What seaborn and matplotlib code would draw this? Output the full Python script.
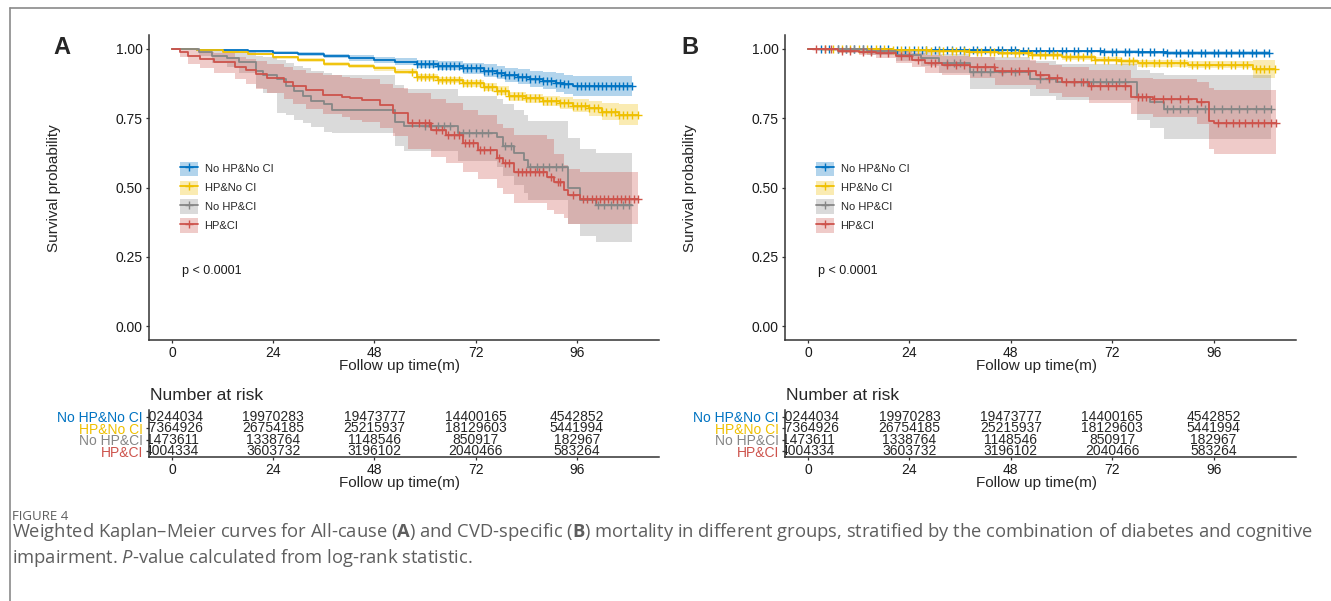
import numpy as np
import seaborn as sns
import matplotlib.pyplot as plt
from matplotlib.patches import Patch
from matplotlib.lines import Line2D

sns.set_style('ticks')
plt.rcParams['font.family'] = ['Liberation Sans', 'DejaVu Sans']
plt.rcParams['mathtext.fontset'] = 'custom'
plt.rcParams['mathtext.rm'] = 'Open Sans'
plt.rcParams['mathtext.bf'] = 'Open Sans:bold'
plt.rcParams['mathtext.it'] = 'Open Sans:italic'

groups = ['No HP&No CI', 'HP&No CI', 'No HP&CI', 'HP&CI']
colors = ['#0073C2', '#EFC000', '#868686', '#CD534C']

# ---- panel A: all-cause mortality (time, survival, lower CI, upper CI, censor times)
a_blue_t = [0, 6, 12, 18, 24, 30, 36, 42, 48, 53, 58, 63, 69, 74, 77, 79, 82, 85, 88, 91, 93, 95, 109]
a_blue_s = [1.0, 0.998, 0.995, 0.991, 0.987, 0.982, 0.975, 0.968, 0.961, 0.954, 0.946, 0.940, 0.930,
            0.922, 0.915, 0.906, 0.900, 0.893, 0.886, 0.879, 0.872, 0.866, 0.866]
a_blue_lo = [1.0, 0.996, 0.992, 0.987, 0.982, 0.976, 0.967, 0.958, 0.950, 0.941, 0.931, 0.923, 0.910,
             0.899, 0.891, 0.881, 0.873, 0.864, 0.855, 0.846, 0.837, 0.830, 0.830]
a_blue_hi = [1.0, 1.0, 0.998, 0.995, 0.992, 0.988, 0.983, 0.978, 0.972, 0.967, 0.961, 0.957, 0.950,
             0.945, 0.939, 0.931, 0.927, 0.922, 0.917, 0.912, 0.907, 0.902, 0.902]
a_blue_cens = [58, 59, 60, 61, 62, 63, 64, 65, 66, 67, 68, 69, 70, 71, 72, 73, 74, 75, 76, 77, 78, 79, 80,
               81, 82, 83, 84, 85, 86, 87, 88, 89, 90, 91, 92, 93, 94, 96, 97, 98, 99, 100, 101, 102, 103,
               104, 105, 106, 107, 108, 109]

a_yel_t = [0, 6, 12, 18, 24, 30, 36, 42, 48, 53, 58, 63, 69, 74, 77, 80, 84, 88, 92, 95, 99, 102, 106, 110.5]
a_yel_s = [1.0, 0.996, 0.990, 0.981, 0.970, 0.960, 0.947, 0.938, 0.930, 0.918, 0.900, 0.888, 0.876, 0.862,
           0.850, 0.830, 0.822, 0.812, 0.804, 0.795, 0.786, 0.774, 0.762, 0.762]
a_yel_lo = [1.0, 0.994, 0.987, 0.977, 0.965, 0.954, 0.940, 0.930, 0.921, 0.908, 0.889, 0.876, 0.863, 0.848,
            0.835, 0.814, 0.805, 0.793, 0.783, 0.771, 0.758, 0.742, 0.724, 0.724]
a_yel_hi = [1.0, 0.998, 0.993, 0.985, 0.975, 0.966, 0.954, 0.946, 0.939, 0.928, 0.911, 0.900, 0.889, 0.876,
            0.865, 0.846, 0.839, 0.831, 0.825, 0.819, 0.814, 0.806, 0.800, 0.800]
a_yel_cens = [57, 58, 59, 60, 61, 62, 63, 64, 65, 66, 67, 68, 69, 70, 71, 72, 73, 74, 75, 76, 77, 78, 79, 80,
              81, 82, 83, 84, 85, 86, 87, 88, 89, 90, 91, 92, 93, 94, 95, 96, 97, 98, 99, 100, 101, 102, 103,
              104, 105, 106, 107, 108, 109, 110.5]

a_gray_t = [0, 6.5, 9.5, 13, 16, 20, 21.5, 25, 27, 29, 31, 33, 36, 38, 52.8, 55, 67.8, 77, 78.5, 81, 83.6,
            84.4, 93.9, 96.7, 100.6, 109.2]
a_gray_s = [1.0, 0.99, 0.975, 0.966, 0.954, 0.92, 0.905, 0.89, 0.868, 0.85, 0.83, 0.814, 0.80, 0.78, 0.738,
            0.722, 0.696, 0.683, 0.65, 0.624, 0.599, 0.575, 0.497, 0.455, 0.437, 0.437]
a_gray_lo = [1.0, 0.975, 0.95, 0.935, 0.915, 0.86, 0.84, 0.77, 0.76, 0.745, 0.733, 0.72, 0.70, 0.695, 0.65,
             0.63, 0.595, 0.575, 0.54, 0.51, 0.48, 0.455, 0.37, 0.325, 0.305, 0.305]
a_gray_hi = [1.0, 1.0, 1.0, 0.995, 0.99, 0.975, 0.97, 0.96, 0.95, 0.94, 0.93, 0.92, 0.915, 0.905, 0.87,
             0.855, 0.83, 0.82, 0.80, 0.78, 0.76, 0.74, 0.68, 0.64, 0.625, 0.625]
a_gray_cens = [60, 61.5, 63, 64.5, 66, 69, 70.5, 72, 73.5, 75, 79, 80.5, 85, 86.5, 88, 89.5, 91, 92.5, 101,
               102.5, 104, 105.5, 107, 108.5]

a_red_t = [0, 1.8, 3.9, 6.6, 10, 15, 17.5, 20, 22.5, 26.6, 28.7, 31.9, 35.8, 40.4, 42.2, 45, 49.3, 52.5, 56,
           61.4, 65, 69, 72.6, 77, 78.6, 81, 89, 90.5, 93, 94, 96.7, 110.5]
a_red_s = [1.0, 0.99, 0.973, 0.965, 0.954, 0.936, 0.925, 0.909, 0.895, 0.882, 0.866, 0.852, 0.834, 0.828,
           0.822, 0.815, 0.798, 0.77, 0.733, 0.708, 0.69, 0.66, 0.635, 0.605, 0.587, 0.557, 0.539, 0.521,
           0.491, 0.473, 0.457, 0.457]
a_red_lo = [1.0, 0.97, 0.945, 0.93, 0.915, 0.89, 0.875, 0.855, 0.84, 0.82, 0.80, 0.785, 0.765, 0.755, 0.745,
            0.735, 0.715, 0.685, 0.64, 0.61, 0.59, 0.555, 0.53, 0.50, 0.475, 0.445, 0.42, 0.405, 0.39, 0.37,
            0.37, 0.37]
a_red_hi = [1.0, 1.0, 0.995, 0.99, 0.985, 0.972, 0.965, 0.955, 0.945, 0.935, 0.925, 0.915, 0.905, 0.9, 0.895,
            0.89, 0.875, 0.86, 0.84, 0.82, 0.805, 0.78, 0.76, 0.73, 0.715, 0.69, 0.675, 0.62, 0.58, 0.565,
            0.557, 0.557]
a_red_cens = [57, 58.5, 60, 61, 62.5, 64, 65.5, 67, 68, 69.5, 70.5, 71.5, 73, 74, 75.5, 77.5, 79, 80, 82, 83,
              84, 85, 86, 87, 88, 90, 91.5, 92, 95, 97.5, 98.5, 99.5, 100.5, 101.5, 102.5, 103.5, 104.5,
              105.5, 106.5, 107.5, 108.5, 109.5, 110.5]

# ---- panel B: CVD-specific mortality
b_blue_t = [0, 10, 20, 30, 40, 50, 60, 70, 78, 85, 109]
b_blue_s = [1.0, 0.999, 0.998, 0.996, 0.995, 0.994, 0.992, 0.99, 0.988, 0.984, 0.984]
b_blue_lo = [1.0, 0.997, 0.995, 0.993, 0.991, 0.99, 0.988, 0.985, 0.982, 0.977, 0.977]
b_blue_hi = [1.0, 1.0, 1.0, 0.999, 0.998, 0.998, 0.997, 0.995, 0.994, 0.991, 0.991]
b_blue_cens = [3, 5, 7, 9, 11, 13, 15, 17, 19, 21, 23, 25, 27, 28, 30, 31, 33, 34, 36, 37, 39, 40, 42, 43,
               45, 46, 48, 49, 51, 52, 54, 55, 57, 58, 60, 61, 63, 64, 66, 67, 69, 70, 72, 73, 75, 76, 78,
               79, 81, 82, 84, 85, 87, 88, 90, 91, 93, 94, 96, 97, 99, 100, 102, 103, 105, 106, 108, 109]

b_yel_t = [0, 10, 20, 29, 38, 45, 53, 60, 68, 74, 78, 90, 105.3, 110.6]
b_yel_s = [1.0, 0.999, 0.997, 0.994, 0.99, 0.985, 0.978, 0.97, 0.962, 0.955, 0.948, 0.944, 0.928, 0.928]
b_yel_lo = [1.0, 0.998, 0.995, 0.991, 0.986, 0.98, 0.972, 0.962, 0.953, 0.944, 0.936, 0.931, 0.895, 0.895]
b_yel_hi = [1.0, 1.0, 0.999, 0.997, 0.994, 0.99, 0.984, 0.977, 0.971, 0.965, 0.96, 0.957, 0.96, 0.96]
b_yel_cens = [4, 6, 8, 10, 12, 14, 16, 18, 20, 22, 24, 26, 28, 29, 31, 32, 34, 35, 37, 38, 40, 41, 43, 44,
              46, 47, 49, 50, 52, 53, 55, 56, 58, 59, 61, 62, 64, 65, 67, 68, 70, 71, 73, 74, 76, 77, 79,
              80, 82, 83, 85, 86, 88, 89, 91, 92, 94, 95, 97, 98, 100, 101, 103, 104, 106, 107, 108, 109,
              110.6]

b_gray_t = [0, 14, 20.8, 26.7, 31, 38.4, 52.6, 58.8, 77.9, 81, 84.2, 109.5]
b_gray_s = [1.0, 0.994, 0.978, 0.966, 0.948, 0.918, 0.892, 0.882, 0.828, 0.81, 0.783, 0.783]
b_gray_lo = [1.0, 0.98, 0.955, 0.94, 0.915, 0.855, 0.83, 0.815, 0.745, 0.715, 0.675, 0.675]
b_gray_hi = [1.0, 1.0, 0.995, 0.99, 0.982, 0.97, 0.955, 0.945, 0.925, 0.915, 0.906, 0.906]
b_gray_cens = [7, 9, 11, 13, 15, 17, 33, 34.5, 36, 39, 41, 43, 46, 49, 55, 57, 63, 64.5, 66, 67.5, 69, 70.5,
               72, 73.5, 75, 85, 86.5, 88, 90, 92, 94, 96, 98, 100, 102, 104, 106, 108, 109.5]

b_red_t = [0, 7, 12, 16, 20.8, 24.7, 27.7, 31.6, 38.4, 44.3, 54, 57, 60, 66.4, 76.5, 81.7, 92, 94.8, 96, 110.8]
b_red_s = [1.0, 0.994, 0.99, 0.984, 0.973, 0.962, 0.948, 0.942, 0.936, 0.92, 0.906, 0.894, 0.882, 0.866,
           0.828, 0.82, 0.81, 0.74, 0.732, 0.732]
b_red_lo = [1.0, 0.985, 0.978, 0.968, 0.95, 0.935, 0.915, 0.905, 0.895, 0.87, 0.855, 0.84, 0.825, 0.805,
            0.765, 0.755, 0.73, 0.64, 0.622, 0.622]
b_red_hi = [1.0, 1.0, 1.0, 0.998, 0.993, 0.987, 0.978, 0.975, 0.97, 0.96, 0.95, 0.942, 0.935, 0.925, 0.895,
            0.89, 0.88, 0.858, 0.852, 0.852]
b_red_cens = [2, 4, 5.5, 8, 10, 13, 15, 17, 19, 22, 24, 26, 29, 30, 33, 35, 37, 40, 42, 44, 46, 48, 50, 52,
              55, 57, 59, 61, 63, 65, 67, 69, 71, 73, 75, 78, 79, 80, 82, 84, 86, 88, 90, 93, 97, 99, 100.5,
              102, 103.5, 105, 106.5, 108, 109.5, 110.8]

# ---- number at risk (same table under both panels)
risk_times = [0, 24, 48, 72, 96]
risk_nohp_noci = [10244034, 19970283, 19473777, 14400165, 4542852]
risk_hp_noci = [17364926, 26754185, 25215937, 18129603, 5441994]
risk_nohp_ci = [1473611, 1338764, 1148546, 850917, 182967]
risk_hp_ci = [4004334, 3603732, 3196102, 2040466, 583264]

panel_a = [(a_blue_t, a_blue_s, a_blue_lo, a_blue_hi, a_blue_cens),
           (a_yel_t, a_yel_s, a_yel_lo, a_yel_hi, a_yel_cens),
           (a_gray_t, a_gray_s, a_gray_lo, a_gray_hi, a_gray_cens),
           (a_red_t, a_red_s, a_red_lo, a_red_hi, a_red_cens)]
panel_b = [(b_blue_t, b_blue_s, b_blue_lo, b_blue_hi, b_blue_cens),
           (b_yel_t, b_yel_s, b_yel_lo, b_yel_hi, b_yel_cens),
           (b_gray_t, b_gray_s, b_gray_lo, b_gray_hi, b_gray_cens),
           (b_red_t, b_red_s, b_red_lo, b_red_hi, b_red_cens)]
risk = [risk_nohp_noci, risk_hp_noci, risk_nohp_ci, risk_hp_ci]

W, H = 1331, 601
fig = plt.figure(figsize=(W / 100, H / 100), dpi=100)
AX_COL = '#333333'
XLIM = (-5.45, 115.5)


def px_axes(left, top, right, bottom):
    return fig.add_axes([left / W, 1 - bottom / H, (right - left) / W, (bottom - top) / H])


def ftext(x, y, s, **kw):
    return fig.text(x / W, 1 - y / H, s, **kw)


def style_axes(ax):
    sns.despine(ax=ax)
    for sp in ['left', 'bottom']:
        ax.spines[sp].set_color(AX_COL)
        ax.spines[sp].set_linewidth(1.1)
    ax.tick_params(colors=AX_COL, labelcolor='#1a1a1a', length=2.5, width=0.9, pad=2, labelsize=10)
    ax.set_xlim(*XLIM)
    ax.set_xticks(risk_times)


def km_panel(ax, curves):
    for (t, s, lo, hi, cens), c in zip(curves, colors):
        ax.fill_between(t, lo, hi, step='post', color=c, alpha=0.3, linewidth=0)
    for (t, s, lo, hi, cens), c in zip(curves, colors):
        sns.lineplot(x=t, y=s, drawstyle='steps-post', color=c, linewidth=1.3, estimator=None, ax=ax)
        tt = np.asarray(t)
        sc = np.asarray(s)[np.searchsorted(tt, cens, side='right') - 1]
        ax.plot(cens, sc, linestyle='none', marker='+', color=c, markersize=6, markeredgewidth=1.0)
    style_axes(ax)
    ax.set_ylim(-0.0505, 1.0505)
    ax.set_yticks([0, 0.25, 0.5, 0.75, 1.0])
    ax.set_yticklabels(['0.00', '0.25', '0.50', '0.75', '1.00'])
    ax.set_xlabel('')
    ax.set_ylabel('')
    ax.text(2.3, 0.2, 'p < 0.0001', fontsize=9, va='center', ha='left', color='#1a1a1a')
    handles = [(Patch(facecolor=c, alpha=0.3, edgecolor='none'),
                Line2D([], [], color=c, lw=1.3, marker='+', markersize=6, markeredgewidth=1.0))
               for c in colors]
    ax.legend(handles, groups, loc='upper left', bbox_to_anchor=(0.061, 0.585), frameon=False,
              fontsize=8, handlelength=1.6, handleheight=1.6, labelspacing=0.42,
              handletextpad=0.6, borderpad=0, borderaxespad=0)


def risk_table(ax):
    style_axes(ax)
    ax.set_ylim(0.48, 4.57)
    rows = [4, 3, 2, 1]
    for row, vals in zip(rows, risk):
        for t, n in zip(risk_times, vals):
            ax.text(t, row, str(n), ha='center', va='center', fontsize=10, clip_on=True)
    ax.set_yticks(rows)
    ax.set_yticklabels(groups)
    for lab, c in zip(ax.get_yticklabels(), colors):
        lab.set_color(c)


for left, right, curves, letter, lx in [(149, 659, panel_a, 'A', 62), (785, 1296, panel_b, 'B', 690)]:
    ax = px_axes(left, 35, right, 340)
    km_panel(ax, curves)
    tab = px_axes(left, 410, right, 457)
    risk_table(tab)
    mid = (left + right) / 2
    ftext(lx, 48, letter, fontsize=17, fontweight='bold', ha='center', va='center')
    ftext(lx - 8 if letter == 'A' else lx, 188, 'Survival probability', rotation=90, fontsize=11,
          ha='center', va='center')
    ftext(mid - 4, 366, 'Follow up time(m)', fontsize=11, ha='center', va='center')
    ftext(left + 1, 395, 'Number at risk', fontsize=12.5, ha='left', va='center')
    ftext(mid - 4, 483, 'Follow up time(m)', fontsize=11, ha='center', va='center')

# page frame and caption
fig.add_artist(Line2D([10 / W, 1], [1 - 8 / H, 1 - 8 / H], transform=fig.transFigure, color='#8a8a8a', lw=1.2))
fig.add_artist(Line2D([10 / W, 10 / W], [1 - 8 / H, 0], transform=fig.transFigure, color='#8a8a8a', lw=1.2))
cap_kw = dict(family='Open Sans', color='#5e5e5e', ha='left', va='center')
ftext(12, 517, 'FIGURE 4', fontsize=9.5, **cap_kw)
ftext(12, 532, r'Weighted Kaplan–Meier curves for All-cause ($\mathbf{A}$) and CVD-specific ($\mathbf{B}$) '
               r'mortality in different groups, stratified by the combination of diabetes and cognitive',
      fontsize=13.25, **cap_kw)
ftext(12, 558, r'impairment. $\mathit{P}$-value calculated from log-rank statistic.', fontsize=13.25, **cap_kw)

fig.savefig('out.png', dpi=100)
